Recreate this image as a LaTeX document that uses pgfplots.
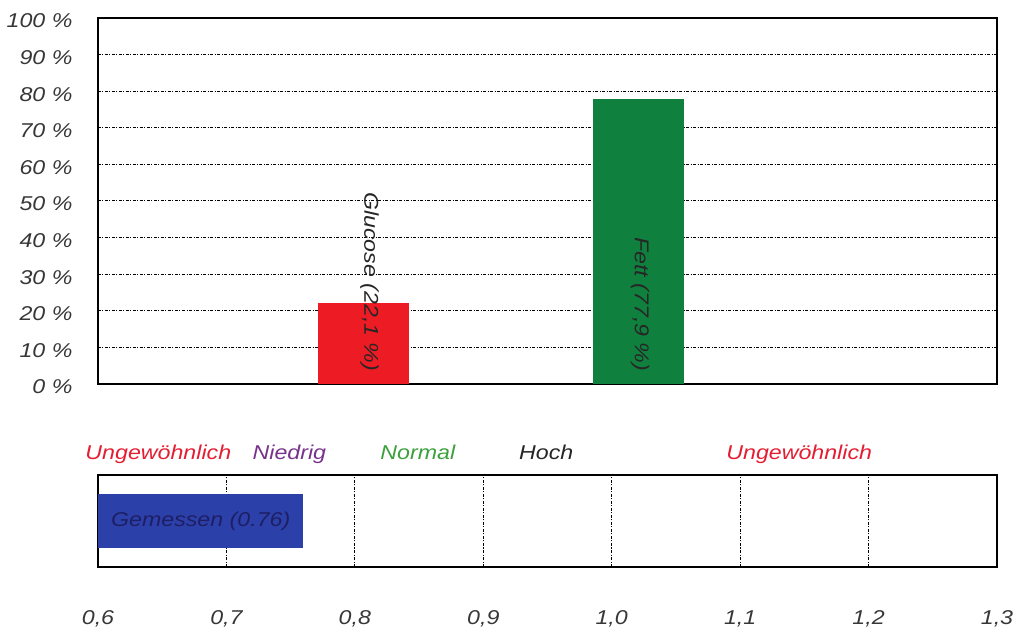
\documentclass[border=0pt]{standalone}
\usepackage{fontspec}
\setmainfont{Liberation Sans}[FakeStretch=1.16]
\usepackage{pgfplots}
\pgfplotsset{compat=1.18}
\definecolor{barred}{RGB}{237,28,36}
\definecolor{bargreen}{RGB}{16,128,62}
\definecolor{barblue}{RGB}{44,64,170}
\definecolor{navy}{RGB}{30,30,100}
\definecolor{lblred}{RGB}{228,30,50}
\definecolor{lblpurple}{RGB}{120,50,140}
\definecolor{lblgreen}{RGB}{60,160,60}
\definecolor{ticktext}{RGB}{55,55,55}
\pgfplotsset{
  chartgrid/.style={black, line width=1pt, dash pattern=on 3pt off 1.5pt on 1pt off 1.5pt},
}
\begin{document}
\begin{tikzpicture}[font=\fontsize{20}{24}\selectfont\itshape]
% upper chart: share of energy source
\begin{axis}[
  name=top,
  width=899pt, height=366pt, scale only axis,
  xmin=0, xmax=10, ymin=0, ymax=100,
  xtick=\empty,
  ytick={0,10,...,100},
  yticklabels={0 \%,10 \%,20 \%,30 \%,40 \%,50 \%,60 \%,70 \%,80 \%,90 \%,100 \%},
  yticklabel style={xshift=-22pt, yshift=-3pt, text=ticktext},
  ymajorgrids, major grid style={chartgrid},
  axis line style={black, line width=1.2pt},
  major tick length=0pt,
]
\addplot[ybar, bar width=1.01, bar shift=0pt, fill=barred, draw=none]
  coordinates {(2.95,22.1)};
\addplot[ybar, bar width=1.01, bar shift=0pt, fill=bargreen, draw=none]
  coordinates {(6.01,77.9)};
\node[rotate=-90, anchor=east, text=black!85] at (axis cs:3.02,2.5) {Glucose (22,1 \%)};
\node[rotate=-90, anchor=east, text=black!85] at (axis cs:6.03,2.5) {Fett (77,9 \%)};
\end{axis}
% lower chart: measured value on the scale
\begin{axis}[
  at={(top.south west)}, anchor=north west, yshift=-91pt,
  width=899pt, height=92pt, scale only axis,
  xmin=0.6, xmax=1.3, ymin=0, ymax=1,
  ytick=\empty,
  xtick={0.6,0.7,0.8,0.9,1.0,1.1,1.2,1.3},
  xticklabels={{0,6},{0,7},{0,8},{0,9},{1,0},{1,1},{1,2},{1,3}},
  xticklabel style={yshift=-40pt, text=ticktext},
  xmajorgrids, major grid style={chartgrid},
  axis line style={black, line width=1.2pt},
  major tick length=0pt,
  clip mode=individual,
]
\addplot[xbar, bar width=0.59, bar shift=0pt, fill=barblue, draw=none]
  coordinates {(0.76,0.5)};
\node[text=navy] at (axis cs:0.68,0.5) {Gemessen (0.76)};
\node[anchor=base, text=lblred] at (axis cs:0.647,1) [yshift=15pt] {Ungewöhnlich};
\node[anchor=base, text=lblpurple] at (axis cs:0.749,1) [yshift=15pt] {Niedrig};
\node[anchor=base, text=lblgreen] at (axis cs:0.849,1) [yshift=15pt] {Normal};
\node[anchor=base, text=black!85] at (axis cs:0.949,1) [yshift=15pt] {Hoch};
\node[anchor=base, text=lblred] at (axis cs:1.146,1) [yshift=15pt] {Ungewöhnlich};
\end{axis}
\path[use as bounding box] ([shift={(-98pt,18pt)}]top.north west)
  rectangle ([shift={(925pt,-616pt)}]top.north west);
\end{tikzpicture}
\end{document}
